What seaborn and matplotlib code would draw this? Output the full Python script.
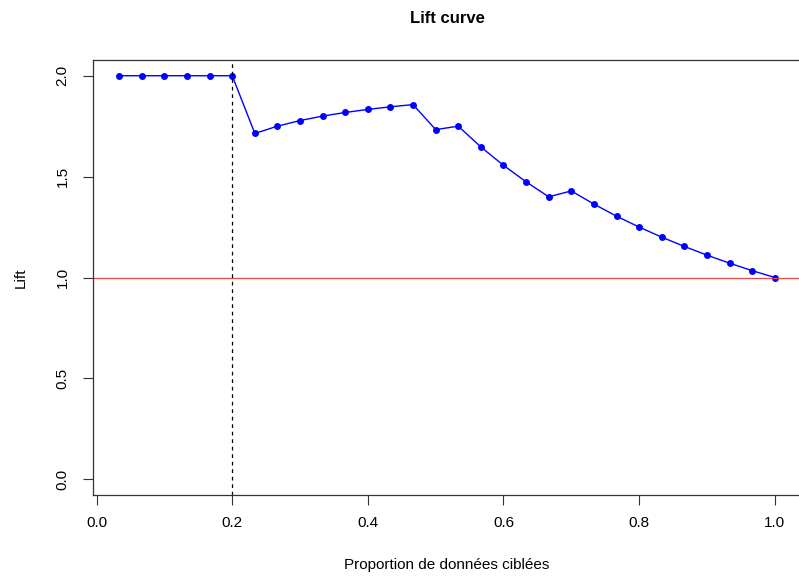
import numpy as np
import pandas as pd
import seaborn as sns
import matplotlib.pyplot as plt

# proportions ciblées (k/30) et lift
proportion = [1/30, 2/30, 3/30, 4/30, 5/30, 6/30, 7/30, 8/30, 9/30, 10/30,
              11/30, 12/30, 13/30, 14/30, 15/30, 16/30, 17/30, 18/30, 19/30, 20/30,
              21/30, 22/30, 23/30, 24/30, 25/30, 26/30, 27/30, 28/30, 29/30, 1.0]
lift = [2.0, 2.0, 2.0, 2.0, 2.0, 2.0, 1.714, 1.75, 1.778, 1.8,
        1.818, 1.833, 1.846, 1.857, 1.733, 1.75, 1.647, 1.556, 1.474, 1.4,
        1.429, 1.364, 1.304, 1.25, 1.2, 1.154, 1.111, 1.071, 1.034, 1.0]
x_ticks = [0.0, 0.2, 0.4, 0.6, 0.8, 1.0]
y_ticks = [0.0, 0.5, 1.0, 1.5, 2.0]
seuil = 0.2

df = pd.DataFrame({"proportion": proportion, "lift": lift})

sns.set_style("ticks")
plt.rcParams['font.family'] = ['Liberation Sans', 'DejaVu Sans']
plt.rcParams['text.color'] = 'black'
plt.rcParams['axes.labelcolor'] = 'black'
plt.rcParams['xtick.color'] = 'black'
plt.rcParams['ytick.color'] = 'black'

fig = plt.figure(figsize=(7.99, 5.86), dpi=100)
ax = fig.add_axes([0.1164, 0.1546, 0.8861, 0.7437])

sns.lineplot(data=df, x="proportion", y="lift", ax=ax, color="blue",
             linewidth=1, marker="o", markersize=5, markeredgewidth=0)
ax.axhline(1.0, color="#e8474c", linewidth=0.9)
ax.axvline(seuil, color="black", linestyle=(0, (3, 3)), linewidth=0.9)

ax.set_xlim(-0.0053, 1.0387)
ax.set_ylim(-0.08, 2.08)
ax.set_xticks(x_ticks)
ax.set_xticklabels([f"{v:.1f}" for v in x_ticks])
ax.set_yticks(y_ticks)
ax.set_yticklabels([f"{v:.1f}" for v in y_ticks], rotation=90, va="center")
ax.tick_params(length=7, width=0.8, labelsize=11, pad=8, color="#333333")
ax.tick_params(axis="y", pad=10)

for s in ax.spines.values():
    s.set_linewidth(0.9)
    s.set_color("#333333")

ax.set_xlabel("Proportion de données ciblées", fontsize=11, labelpad=20)
ax.set_ylabel("Lift", fontsize=11, labelpad=20)
ax.set_title("Lift curve", fontsize=12, fontweight="bold", pad=26)

fig.savefig("out.png", dpi=100)
